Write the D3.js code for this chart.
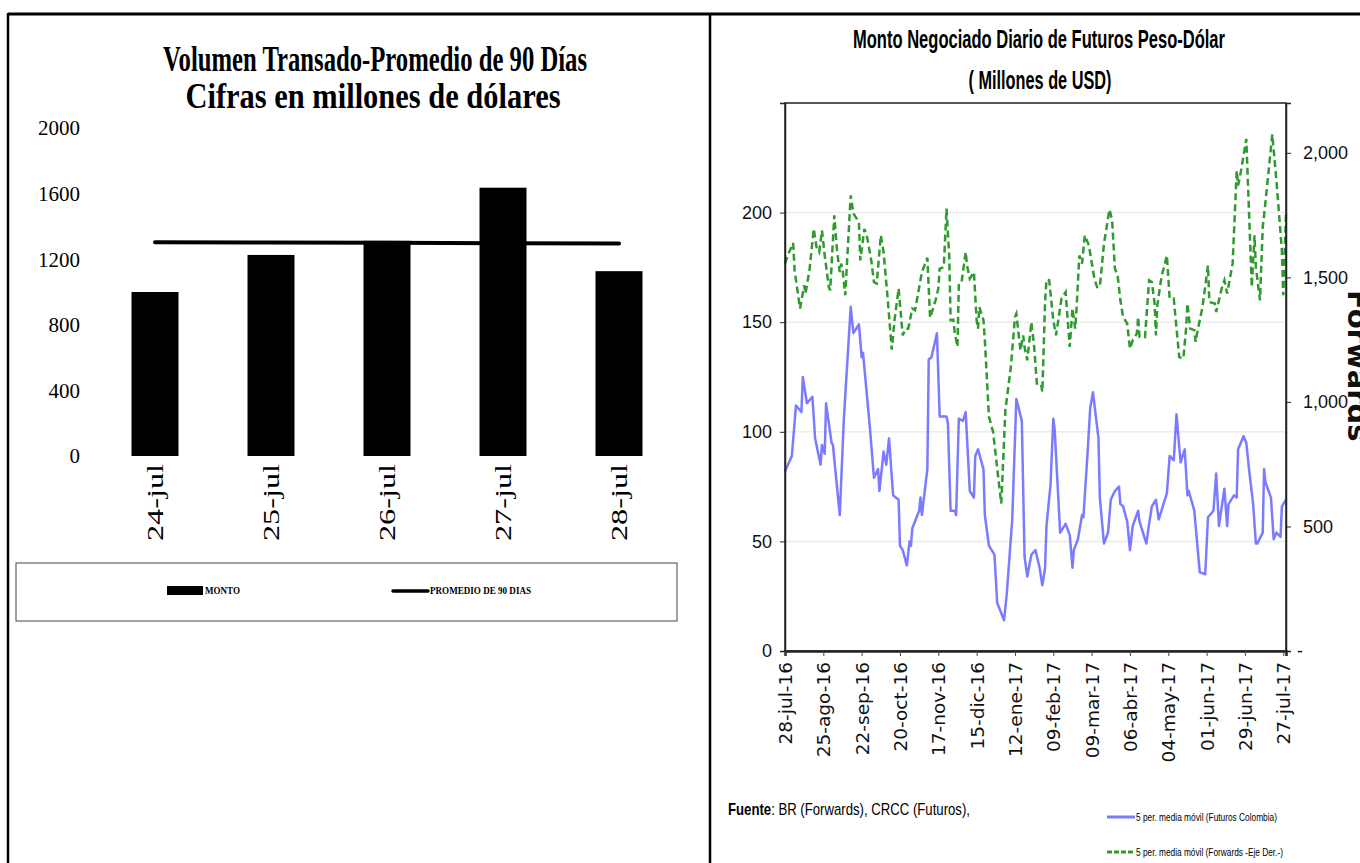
<!DOCTYPE html>
<html>
<head>
<meta charset="utf-8">
<script src="https://cdn.jsdelivr.net/npm/d3@7"></script>
<style>
    body { margin: 0; background: #fff; }
    svg { display: block; }
</style>
</head>
<body>
<div id="svg-container"></div>
<script>
;(function () {

    // ---- left chart data ----
    var barDays = ['24-jul', '25-jul', '26-jul', '27-jul', '28-jul'];
    var monto = [1000, 1226, 1312, 1636, 1127];
    var promedio90 = [1304, 1302, 1300, 1298, 1296];
    var leftTicks = [0, 400, 800, 1200, 1600, 2000];

    // ---- right chart data (5 per. media movil) ----
    var futFechas = ['2016-07-28', '2016-08-02', '2016-08-05', '2016-08-09', '2016-08-10', '2016-08-13', '2016-08-17', '2016-08-19',
        '2016-08-23', '2016-08-24', '2016-08-26', '2016-08-27', '2016-08-31', '2016-09-01', '2016-09-06', '2016-09-09',
        '2016-09-14', '2016-09-16', '2016-09-20', '2016-09-22', '2016-09-23', '2016-09-28', '2016-10-01', '2016-10-04',
        '2016-10-05', '2016-10-08', '2016-10-10', '2016-10-12', '2016-10-15', '2016-10-19', '2016-10-20', '2016-10-22',
        '2016-10-25', '2016-10-27', '2016-10-28', '2016-10-29', '2016-11-03', '2016-11-04', '2016-11-05', '2016-11-09',
        '2016-11-10', '2016-11-12', '2016-11-16', '2016-11-18', '2016-11-23', '2016-11-24', '2016-11-26', '2016-11-29',
        '2016-11-30', '2016-12-02', '2016-12-05', '2016-12-07', '2016-12-10', '2016-12-13', '2016-12-14', '2016-12-16',
        '2016-12-20', '2016-12-21', '2016-12-24', '2016-12-28', '2016-12-30', '2017-01-04', '2017-01-06', '2017-01-10',
        '2017-01-13', '2017-01-15', '2017-01-17', '2017-01-19', '2017-01-21', '2017-01-24', '2017-01-27', '2017-01-30',
        '2017-02-01', '2017-02-03', '2017-02-04', '2017-02-07', '2017-02-09', '2017-02-10', '2017-02-14', '2017-02-18',
        '2017-02-21', '2017-02-23', '2017-02-24', '2017-02-27', '2017-03-02', '2017-03-03', '2017-03-06', '2017-03-08',
        '2017-03-10', '2017-03-14', '2017-03-15', '2017-03-18', '2017-03-21', '2017-03-23', '2017-03-26', '2017-03-29',
        '2017-03-30', '2017-04-01', '2017-04-04', '2017-04-06', '2017-04-08', '2017-04-12', '2017-04-13', '2017-04-18',
        '2017-04-20', '2017-04-22', '2017-04-25', '2017-04-27', '2017-05-03', '2017-05-05', '2017-05-08', '2017-05-10',
        '2017-05-13', '2017-05-16', '2017-05-18', '2017-05-19', '2017-05-23', '2017-05-27', '2017-05-31', '2017-06-02',
        '2017-06-06', '2017-06-08', '2017-06-10', '2017-06-14', '2017-06-16', '2017-06-17', '2017-06-21', '2017-06-23',
        '2017-06-24', '2017-06-28', '2017-06-30', '2017-07-02', '2017-07-05', '2017-07-07', '2017-07-08', '2017-07-12',
        '2017-07-13', '2017-07-14', '2017-07-18', '2017-07-20', '2017-07-22', '2017-07-25', '2017-07-26', '2017-07-29'];
    var futValores = [82, 89, 112, 109, 125, 113, 116, 97,
        85, 94, 90, 113, 95, 94, 62, 106,
        157, 145, 149, 134, 136, 102, 79, 83,
        73, 91, 85, 97, 71, 69, 48, 46,
        39, 50, 48, 56, 64, 70, 62, 83,
        133, 134, 145, 107, 107, 104, 64, 64,
        62, 106, 105, 109, 73, 70, 89, 92,
        83, 62, 48, 44, 22, 14, 26, 60,
        115, 110, 105, 43, 34, 44, 46, 38,
        30, 38, 57, 76, 106, 101, 54, 58,
        53, 38, 46, 51, 62, 61, 90, 111,
        118, 97, 70, 49, 54, 69, 73, 75,
        67, 66, 59, 46, 57, 64, 59, 49,
        58, 66, 69, 60, 72, 89, 87, 108,
        86, 92, 71, 73, 64, 36, 35, 61,
        64, 81, 57, 74, 57, 67, 71, 70,
        92, 98, 95, 83, 67, 49, 49, 54,
        83, 77, 70, 51, 54, 52, 66, 69];

    var fwdFechas = ['2016-07-28', '2016-07-30', '2016-08-03', '2016-08-04', '2016-08-08', '2016-08-11', '2016-08-12', '2016-08-15',
        '2016-08-18', '2016-08-20', '2016-08-22', '2016-08-24', '2016-08-26', '2016-08-29', '2016-08-30', '2016-09-02',
        '2016-09-04', '2016-09-06', '2016-09-07', '2016-09-08', '2016-09-10', '2016-09-14', '2016-09-16', '2016-09-20',
        '2016-09-21', '2016-09-24', '2016-09-26', '2016-09-29', '2016-10-01', '2016-10-03', '2016-10-06', '2016-10-08',
        '2016-10-11', '2016-10-14', '2016-10-16', '2016-10-19', '2016-10-22', '2016-10-24', '2016-10-26', '2016-10-29',
        '2016-10-31', '2016-11-02', '2016-11-05', '2016-11-09', '2016-11-11', '2016-11-15', '2016-11-17', '2016-11-18',
        '2016-11-21', '2016-11-23', '2016-11-25', '2016-11-26', '2016-11-28', '2016-11-29', '2016-12-01', '2016-12-02',
        '2016-12-04', '2016-12-07', '2016-12-08', '2016-12-10', '2016-12-13', '2016-12-15', '2016-12-16', '2016-12-17',
        '2016-12-20', '2016-12-21', '2016-12-24', '2016-12-27', '2016-12-31', '2017-01-02', '2017-01-05', '2017-01-09',
        '2017-01-12', '2017-01-13', '2017-01-16', '2017-01-18', '2017-01-19', '2017-01-21', '2017-01-24', '2017-01-26',
        '2017-01-28', '2017-01-31', '2017-02-01', '2017-02-03', '2017-02-04', '2017-02-06', '2017-02-09', '2017-02-11',
        '2017-02-15', '2017-02-18', '2017-02-21', '2017-02-23', '2017-02-25', '2017-02-26', '2017-02-28', '2017-03-02',
        '2017-03-04', '2017-03-07', '2017-03-11', '2017-03-13', '2017-03-15', '2017-03-18', '2017-03-22', '2017-03-24',
        '2017-03-26', '2017-03-28', '2017-03-30', '2017-04-01', '2017-04-04', '2017-04-06', '2017-04-08', '2017-04-11',
        '2017-04-12', '2017-04-13', '2017-04-17', '2017-04-20', '2017-04-22', '2017-04-24', '2017-04-25', '2017-04-26',
        '2017-04-29', '2017-05-03', '2017-05-05', '2017-05-08', '2017-05-12', '2017-05-15', '2017-05-17', '2017-05-18',
        '2017-05-20', '2017-05-23', '2017-05-24', '2017-05-25', '2017-05-29', '2017-06-02', '2017-06-03', '2017-06-07',
        '2017-06-08', '2017-06-12', '2017-06-14', '2017-06-16', '2017-06-20', '2017-06-23', '2017-06-24', '2017-06-26',
        '2017-06-30', '2017-07-04', '2017-07-06', '2017-07-07', '2017-07-10', '2017-07-12', '2017-07-14', '2017-07-19',
        '2017-07-22', '2017-07-26', '2017-07-27', '2017-07-29'];
    var fwdValores = [1555, 1588, 1638, 1528, 1375, 1468, 1435, 1535,
        1695, 1622, 1602, 1689, 1588, 1461, 1448, 1749,
        1608, 1521, 1555, 1535, 1428, 1829, 1756, 1722,
        1568, 1695, 1662, 1568, 1481, 1475, 1669, 1602,
        1415, 1210, 1328, 1455, 1267, 1294, 1294, 1375,
        1368, 1428, 1521, 1579, 1338, 1408, 1455, 1535,
        1541, 1776, 1582, 1328, 1330, 1278, 1221, 1475,
        1481, 1602, 1548, 1495, 1521, 1328, 1294, 1381,
        1328, 1247, 940, 880, 686, 592, 967, 1140,
        1341, 1354, 1207, 1267, 1221, 1167, 1321, 1221,
        1074, 1074, 1040, 1401, 1491, 1488, 1328, 1267,
        1415, 1441, 1221, 1375, 1294, 1375, 1588, 1555,
        1669, 1628, 1495, 1461, 1461, 1635, 1772, 1729,
        1535, 1508, 1408, 1341, 1314, 1214, 1247, 1274,
        1341, 1261, 1261, 1488, 1481, 1395, 1267, 1388,
        1501, 1588, 1415, 1415, 1180, 1174, 1294, 1395,
        1294, 1288, 1241, 1274, 1381, 1548, 1401, 1395,
        1361, 1455, 1488, 1435, 1555, 1929, 1869, 1923,
        2056, 1461, 1669, 1541, 1408, 1702, 1802, 2074,
        1889, 1608, 1428, 1756];

    var tickFechas = ['2016-07-28', '2016-08-25', '2016-09-22', '2016-10-20', '2016-11-17', '2016-12-15', '2017-01-12',
        '2017-02-09', '2017-03-09', '2017-04-06', '2017-05-04', '2017-06-01', '2017-06-29', '2017-07-27'];
    var futTicks = [0, 50, 100, 150, 200];
    var fwdTicks = [0, 500, 1000, 1500, 2000];

    var width = 1360
        , height = 863
        , svg;

    var parseDate = d3.timeParse('%Y-%m-%d');
    var esLocale = d3.timeFormatLocale({
        dateTime: '%x, %X', date: '%d/%m/%Y', time: '%H:%M:%S', periods: ['AM', 'PM'],
        days: ['domingo', 'lunes', 'martes', 'miércoles', 'jueves', 'viernes', 'sábado'],
        shortDays: ['dom', 'lun', 'mar', 'mié', 'jue', 'vie', 'sáb'],
        months: ['enero', 'febrero', 'marzo', 'abril', 'mayo', 'junio', 'julio', 'agosto', 'septiembre', 'octubre', 'noviembre', 'diciembre'],
        shortMonths: ['ene', 'feb', 'mar', 'abr', 'may', 'jun', 'jul', 'ago', 'sep', 'oct', 'nov', 'dic']
    });
    var fmtFecha = esLocale.format('%d-%b-%y');

    function drawFrame() {
        svg.append('line').attr('x1', 8).attr('x2', width).attr('y1', 14).attr('y2', 14)
            .attr('stroke', '#000').attr('stroke-width', 3);
        svg.append('line').attr('x1', 8).attr('x2', 8).attr('y1', 13).attr('y2', height)
            .attr('stroke', '#000').attr('stroke-width', 2.5);
        svg.append('line').attr('x1', 710).attr('x2', 710).attr('y1', 13).attr('y2', height)
            .attr('stroke', '#000').attr('stroke-width', 2.5);
    }

    function drawBarChart() {
        var g = svg.append('g').attr('class', 'bar-chart');

        var x = d3.scaleBand()
            .domain(barDays)
            .range([97, 677])
            .paddingInner(0.595)
            .paddingOuter(0.2975);

        var y = d3.scaleLinear()
            .domain([0, 2000])
            .range([456, 128]);

        g.append('text')
            .attr('x', 375).attr('y', 71)
            .attr('text-anchor', 'middle')
            .attr('font-family', 'Liberation Serif, serif')
            .attr('font-weight', 'bold')
            .attr('font-size', 35)
            .attr('textLength', 424).attr('lengthAdjust', 'spacingAndGlyphs')
            .text('Volumen Transado-Promedio de 90 Días');
        g.append('text')
            .attr('x', 373).attr('y', 108)
            .attr('text-anchor', 'middle')
            .attr('font-family', 'Liberation Serif, serif')
            .attr('font-weight', 'bold')
            .attr('font-size', 35)
            .attr('textLength', 375).attr('lengthAdjust', 'spacingAndGlyphs')
            .text('Cifras en millones de dólares');

        // y labels, no axis line
        g.selectAll('.ylab')
            .data(leftTicks)
            .enter().append('text')
            .attr('class', 'ylab')
            .attr('x', 80)
            .attr('y', function (d) { return y(d); })
            .attr('dy', '0.35em')
            .attr('text-anchor', 'end')
            .attr('font-family', 'Liberation Serif, serif')
            .attr('font-size', 21)
            .text(function (d) { return d; });

        g.selectAll('.bar')
            .data(monto)
            .enter().append('rect')
            .attr('class', 'bar')
            .attr('x', function (d, i) { return x(barDays[i]); })
            .attr('y', function (d) { return y(d); })
            .attr('width', x.bandwidth())
            .attr('height', function (d) { return y(0) - y(d); })
            .attr('fill', '#000');

        var line = d3.line()
            .x(function (d, i) { return x(barDays[i]) + x.bandwidth() / 2; })
            .y(function (d) { return y(d); });

        g.append('path')
            .datum(promedio90)
            .attr('d', line)
            .attr('fill', 'none')
            .attr('stroke', '#000')
            .attr('stroke-width', 4)
            .attr('stroke-linecap', 'round');

        g.selectAll('.xlab')
            .data(barDays)
            .enter().append('text')
            .attr('class', 'xlab')
            .attr('transform', function (d) {
                return 'translate(' + (x(d) + x.bandwidth() / 2) + ',464) rotate(-90)';
            })
            .attr('dy', '0.35em')
            .attr('text-anchor', 'end')
            .attr('font-family', 'Liberation Serif, serif')
            .attr('font-size', 23)
            .attr('textLength', 77).attr('lengthAdjust', 'spacingAndGlyphs')
            .text(function (d) { return d; });

        // legend
        g.append('rect')
            .attr('x', 16).attr('y', 563).attr('width', 661).attr('height', 58)
            .attr('fill', 'none').attr('stroke', '#444').attr('stroke-width', 1);
        g.append('rect')
            .attr('x', 167).attr('y', 586).attr('width', 36).attr('height', 9)
            .attr('fill', '#000');
        g.append('text')
            .attr('x', 205).attr('y', 594)
            .attr('font-family', 'Liberation Serif, serif')
            .attr('font-weight', 'bold').attr('font-size', 9.5)
            .attr('textLength', 35).attr('lengthAdjust', 'spacingAndGlyphs')
            .text('MONTO');
        g.append('line')
            .attr('x1', 393).attr('x2', 428).attr('y1', 591).attr('y2', 591)
            .attr('stroke', '#000').attr('stroke-width', 3.5).attr('stroke-linecap', 'round');
        g.append('text')
            .attr('x', 430).attr('y', 594)
            .attr('font-family', 'Liberation Serif, serif')
            .attr('font-weight', 'bold').attr('font-size', 9.5)
            .attr('textLength', 101).attr('lengthAdjust', 'spacingAndGlyphs')
            .text('PROMEDIO DE 90 DIAS');
    }

    function drawLineChart() {
        var g = svg.append('g').attr('class', 'line-chart');
        var left = 785, right = 1286, top = 103, bottom = 651;

        var x = d3.scaleTime()
            .domain([parseDate('2016-07-28'), parseDate('2017-07-29')])
            .range([left, right]);
        var yFut = d3.scaleLinear().domain([0, 250]).range([bottom, top]);
        var yFwd = d3.scaleLinear().domain([0, 2200]).range([bottom, top]);

        var narrow = 'Liberation Sans Narrow, Arial Narrow, sans-serif';

        g.append('text')
            .attr('x', 1039).attr('y', 48)
            .attr('text-anchor', 'middle')
            .attr('font-family', narrow).attr('font-weight', 'bold').attr('font-size', 25)
            .attr('textLength', 372).attr('lengthAdjust', 'spacingAndGlyphs')
            .text('Monto Negociado Diario de Futuros Peso-Dólar');
        g.append('text')
            .attr('x', 1040).attr('y', 89)
            .attr('text-anchor', 'middle')
            .attr('font-family', narrow).attr('font-weight', 'bold').attr('font-size', 25)
            .attr('textLength', 143).attr('lengthAdjust', 'spacingAndGlyphs')
            .text('( Millones de USD)');

        // gridlines
        g.selectAll('.grid')
            .data(futTicks.slice(1))
            .enter().append('line')
            .attr('class', 'grid')
            .attr('x1', left).attr('x2', right)
            .attr('y1', function (d) { return yFut(d); })
            .attr('y2', function (d) { return yFut(d); })
            .attr('stroke', '#ececec').attr('stroke-width', 1.5);

        var futLine = d3.line()
            .x(function (d) { return x(d.fecha); })
            .y(function (d) { return yFut(d.valor); });
        var fwdLine = d3.line()
            .x(function (d) { return x(d.fecha); })
            .y(function (d) { return yFwd(d.valor); });

        var futData = futFechas.map(function (f, i) { return { fecha: parseDate(f), valor: futValores[i] }; });
        var fwdData = fwdFechas.map(function (f, i) { return { fecha: parseDate(f), valor: fwdValores[i] }; });

        g.append('path')
            .datum(futData)
            .attr('d', futLine)
            .attr('fill', 'none')
            .attr('stroke', '#7b7bff')
            .attr('stroke-width', 2.5)
            .attr('stroke-linejoin', 'round');

        g.append('path')
            .datum(fwdData)
            .attr('d', fwdLine)
            .attr('fill', 'none')
            .attr('stroke', '#2f9a2f')
            .attr('stroke-width', 2.5)
            .attr('stroke-dasharray', '7,4');

        // plot border
        g.append('rect')
            .attr('x', left).attr('y', top).attr('width', right - left).attr('height', bottom - top)
            .attr('fill', 'none').attr('stroke', '#222').attr('stroke-width', 1.5);

        var axL = g.append('g')
            .attr('transform', 'translate(' + left + ',0)')
            .call(d3.axisLeft(yFut).tickValues(futTicks).tickSize(5).tickPadding(8));
        var axR = g.append('g')
            .attr('transform', 'translate(' + right + ',0)')
            .call(d3.axisRight(yFwd).tickValues(fwdTicks).tickSize(5).tickPadding(12)
                .tickFormat(function (d) { return d === 0 ? '-' : d3.format(',')(d); }));
        var axB = g.append('g')
            .attr('transform', 'translate(0,' + bottom + ')')
            .call(d3.axisBottom(x).tickValues(tickFechas.map(parseDate)).tickSize(5).tickFormat(fmtFecha));

        [axL, axR].forEach(function (ax) {
            ax.select('.domain').attr('stroke', '#222').attr('stroke-width', 1.5);
            ax.selectAll('.tick line').attr('stroke', '#222');
            ax.selectAll('text')
                .attr('font-family', narrow)
                .attr('font-size', 18)
                .attr('fill', '#111');
        });
        axR.selectAll('.tick text').filter(function (d) { return d === 0; }).attr('x', 11);

        axB.select('.domain').attr('stroke', '#222').attr('stroke-width', 2.5);
        axB.selectAll('.tick line').attr('stroke', '#444');
        axB.selectAll('text')
            .attr('font-family', 'DejaVu Sans, Verdana, sans-serif')
            .attr('font-size', 18.5)
            .attr('fill', '#111')
            .attr('text-anchor', 'end')
            .attr('transform', 'rotate(-90)')
            .attr('x', -11)
            .attr('y', 0)
            .attr('dy', '0.36em');

        // secondary axis title, partly cut by the page edge
        g.append('text')
            .attr('transform', 'translate(1348,290) rotate(90)')
            .attr('font-family', 'DejaVu Sans, sans-serif')
            .attr('font-weight', 'bold')
            .attr('font-size', 29)
            .attr('fill', '#111')
            .text('Forwards');

        // source
        var src = g.append('text')
            .attr('x', 728).attr('y', 815)
            .attr('font-family', narrow).attr('font-size', 17)
            .attr('textLength', 242).attr('lengthAdjust', 'spacingAndGlyphs');
        src.append('tspan').attr('font-weight', 'bold').text('Fuente');
        src.append('tspan').text(': BR (Forwards), CRCC (Futuros),');

        // legend
        g.append('line')
            .attr('x1', 1107).attr('x2', 1135).attr('y1', 817).attr('y2', 817)
            .attr('stroke', '#7b7bff').attr('stroke-width', 3);
        g.append('text')
            .attr('x', 1136).attr('y', 821)
            .attr('font-family', narrow).attr('font-size', 11)
            .attr('textLength', 141).attr('lengthAdjust', 'spacingAndGlyphs')
            .text('5 per. media móvil (Futuros Colombia)');
        g.append('line')
            .attr('x1', 1107).attr('x2', 1135).attr('y1', 852).attr('y2', 852)
            .attr('stroke', '#2f9a2f').attr('stroke-width', 3).attr('stroke-dasharray', '5,2');
        g.append('text')
            .attr('x', 1136).attr('y', 856)
            .attr('font-family', narrow).attr('font-size', 11)
            .attr('textLength', 147).attr('lengthAdjust', 'spacingAndGlyphs')
            .text('5 per. media móvil (Forwards -Eje Der.-)');
    }

    function initialize() {
        svg = d3.select('#svg-container').append('svg')
            .attr('width', width)
            .attr('height', height);

        svg.append('rect').attr('width', width).attr('height', height).attr('fill', '#fff');

        drawFrame();
        drawBarChart();
        drawLineChart();
    }

    initialize();

}());
</script>
</body>
</html>
